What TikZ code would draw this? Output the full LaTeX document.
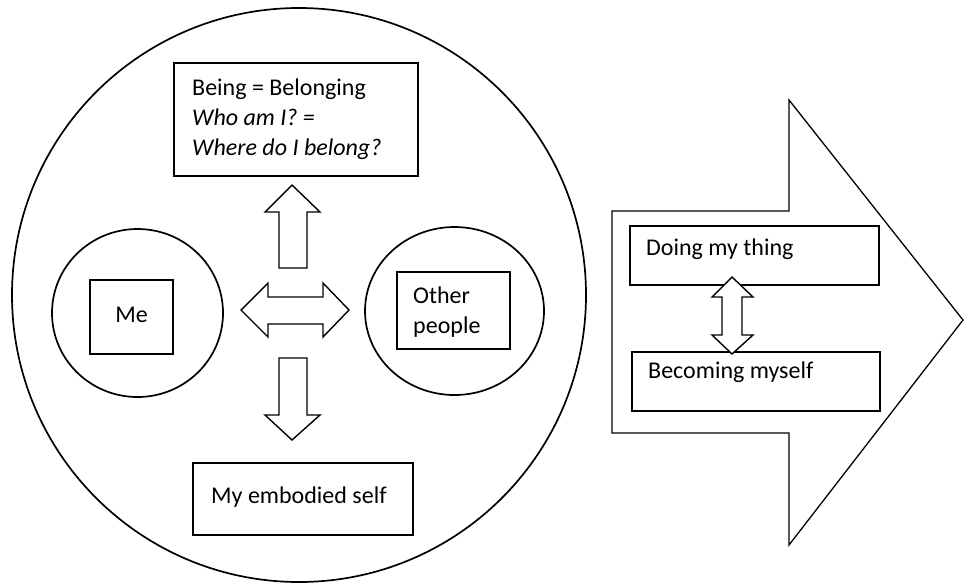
\documentclass[tikz,border=0pt]{standalone}
\usepackage{fontspec}
\setmainfont{Carlito}
\usetikzlibrary{shapes.geometric}
\begin{document}
\begin{tikzpicture}[x=1pt,y=-1pt,
  boxnode/.style={draw=black,line width=1.7pt,rectangle,inner sep=0pt,fill=white},
  ringnode/.style={draw=black,line width=1.7pt,ellipse,inner sep=0pt},
  blockarrow/.style={draw=black,line width=1.4pt,fill=white,line join=miter},
  label/.style={anchor=base west,inner sep=0pt,font=\fontsize{24}{30}\selectfont}]
\useasboundingbox (0,0) rectangle (965,587);
% big circle
\node[draw=black,line width=1.7pt,circle,inner sep=0pt,minimum size=574pt] (big) at (299,295) {};
% top box
\node[boxnode,minimum width=244pt,minimum height=113pt] (top) at (296,119.5) {};
\node[label] (t1) at (192,95) {Being = Belonging};
\node[label] (t2) at (192,125) {\itshape Who am I? =};
\node[label] (t3) at (192,155) {\itshape Where do I belong?};
% bottom box
\node[boxnode,minimum width=220pt,minimum height=72pt] (bottom) at (303,499) {};
\node[label] (b1) at (211,503) {My embodied self};
% me
\node[ringnode,minimum width=171pt,minimum height=168pt] (mering) at (137.5,313) {};
\node[boxnode,minimum width=83pt,minimum height=74pt] (mebox) at (131.5,317) {};
\node[label,anchor=base] (me) at (131.5,322) {Me};
% other people
\node[ringnode,minimum width=179pt,minimum height=168pt] (otherring) at (454.5,311) {};
\node[boxnode,minimum width=113pt,minimum height=77pt] (otherbox) at (453.5,310.5) {};
\node[label] (o1) at (413,303) {Other};
\node[label] (o2) at (413,333) {people};
% arrows in circle
\draw[blockarrow] (292,185) -- (320,212) -- (307,212) -- (307,268) -- (279,268) -- (279,212) -- (265,212) -- cycle;
\draw[blockarrow] (279,358) -- (307,358) -- (307,415) -- (320,415) -- (292,440) -- (265,415) -- (279,415) -- cycle;
\draw[blockarrow] (241,310) -- (268,283) -- (268,297) -- (323,297) -- (323,283) -- (349,310) -- (323,337) -- (323,324) -- (268,324) -- (268,337) -- cycle;
% big right arrow
\draw[line width=1.3pt,line join=miter] (612,211) -- (789,211) -- (789,100) -- (963,320) -- (789,545) -- (789,433) -- (612,433) -- cycle;
\node[boxnode,minimum width=249pt,minimum height=59pt] (doing) at (754.5,255.5) {};
\node[label] (d1) at (646,255) {Doing my thing};
\node[boxnode,minimum width=248pt,minimum height=59pt] (becoming) at (756,381.5) {};
\node[label] (be1) at (648,378) {Becoming myself};
\draw[blockarrow] (732,277) -- (753,297) -- (742,297) -- (742,335) -- (753,335) -- (732,354) -- (712,335) -- (722,335) -- (722,297) -- (712,297) -- cycle;
\end{tikzpicture}
\end{document}
